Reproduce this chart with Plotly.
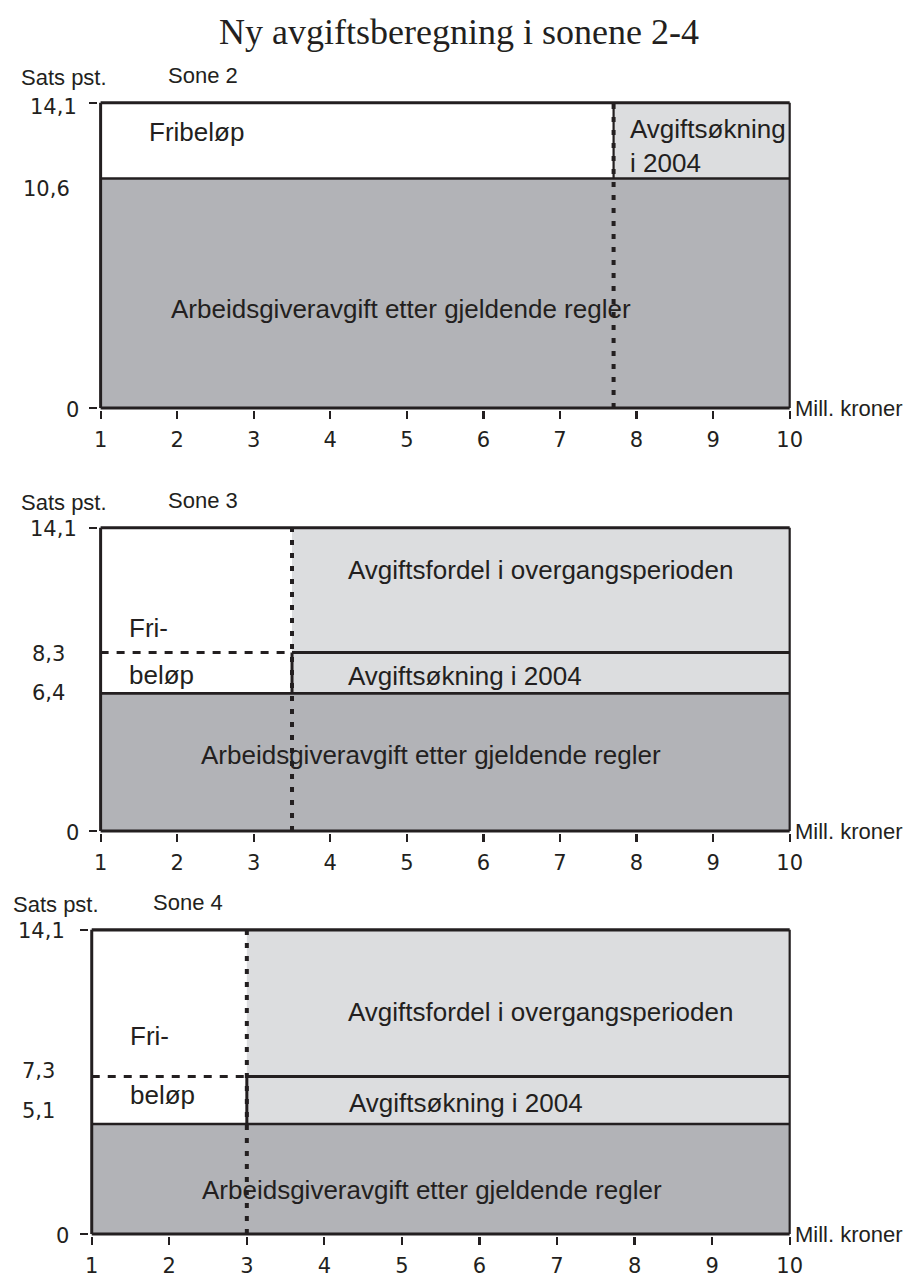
import plotly.graph_objects as go

W, H = 916, 1278

# ---------------- data ----------------
title = "Ny avgiftsberegning i sonene 2-4"
zones = ["Sone 2", "Sone 3", "Sone 4"]
x_ticks = [1, 2, 3, 4, 5, 6, 7, 8, 9, 10]
x_min, x_max = 1, 10
top_rate = 14.1
old_rate = [10.6, 6.4, 5.1]          # Arbeidsgiveravgift etter gjeldende regler
new_rate = [14.1, 8.3, 7.3]          # sats etter fribeløpet i 2004
fribelop_limit = [7.7, 3.5, 3.0]     # Mill. kroner
y_labels = [
    [(14.1, "14,1"), (10.6, "10,6"), (0, "0")],
    [(14.1, "14,1"), (8.3, "8,3"), (6.4, "6,4"), (0, "0")],
    [(14.1, "14,1"), (7.3, "7,3"), (5.1, "5,1"), (0, "0")],
]

# ---------------- style / layout ----------------
INK = "#231f20"
DARK = "#b2b3b7"
LIGHT = "#dcdddf"
FONT = "Liberation Sans"
NUMFONT = "DejaVu Sans"

# pixel geometry of each panel: x=1, x=10, y=0, y=14.1
geo = [
    dict(x1=98, x10=797, y0=409, yt=103),
    dict(x1=98, x10=797, y0=833, yt=529),
    dict(x1=89, x10=797, y0=1237, yt=932),
]
# y-label placement per panel: (right edge px, vertical shift px)
ylab_pos = [
    [(76, -4), (69, -10), (78, -2)],
    [(76, -1), (64, -1), (64, 0), (78, -2)],
    [(64, -1), (54, 6), (54, 13), (68, -2)],
]
title_pos = [(15, 164), (15, 164), (7, 149)]
xr = [0.96, 10.06]
yr = [-0.09, 14.22]

fig = go.Figure()
layout = dict(
    width=W, height=H, margin=dict(l=0, r=0, t=0, b=0),
    paper_bgcolor="white", plot_bgcolor="rgba(0,0,0,0)",
    showlegend=False,
)
annotations = []


def px_x(g, v):
    return g["x1"] + (v - 1) * (g["x10"] - g["x1"]) / 9.0


def px_y(g, v):
    return g["y0"] - v * (g["y0"] - g["yt"]) / top_rate


def line(xa, ya, xs, ys, width=2.6, dash="solid"):
    fig.add_trace(go.Scatter(x=xs, y=ys, mode="lines", xaxis=xa, yaxis=ya,
                             line=dict(color=INK, width=width, dash=dash),
                             hoverinfo="skip"))


def ann(xref, yref, x, y, text, size=26, xanchor="center", yanchor="middle",
        family=FONT, **kw):
    d = dict(xref=xref, yref=yref, x=x, y=y, text=text, showarrow=False,
             xanchor=xanchor, yanchor=yanchor,
             font=dict(family=family, size=size, color=INK))
    d.update(kw)
    annotations.append(d)


for i in range(3):
    g = geo[i]
    sfx = "" if i == 0 else str(i + 1)
    xa, ya = "x" + sfx, "y" + sfx
    dom_x = [px_x(g, xr[0]) / W, px_x(g, xr[1]) / W]
    dom_y = [1 - px_y(g, yr[0]) / H, 1 - px_y(g, yr[1]) / H]
    layout["xaxis" + sfx] = dict(
        domain=dom_x, range=xr, anchor=ya, tickvals=x_ticks,
        ticktext=[str(t) for t in x_ticks], ticks="outside", ticklen=8,
        tickwidth=2.2, tickcolor=INK, showgrid=False, zeroline=False, showline=False,
        tickfont=dict(family=NUMFONT, size=21, color=INK), ticklabelstandoff=3,
        fixedrange=True,
    )
    layout["yaxis" + sfx] = dict(
        domain=dom_y, range=yr, anchor=xa, tickvals=[0, top_rate],
        ticks="outside", ticklen=8, tickwidth=2.2, showticklabels=False,
        tickcolor=INK, showgrid=False, zeroline=False, showline=False,
        fixedrange=True,
    )

    o, n, s = old_rate[i], new_rate[i], fribelop_limit[i]

    # dark area: current rules
    fig.add_trace(go.Scatter(x=[x_min, x_max, x_max, x_min, x_min], y=[0, 0, o, o, 0],
                             fill="toself", fillcolor=DARK, mode="none",
                             xaxis=xa, yaxis=ya, hoverinfo="skip"))
    # light area above threshold
    fig.add_trace(go.Scatter(x=[s, x_max, x_max, s, s], y=[o, o, top_rate, top_rate, o],
                             fill="toself", fillcolor=LIGHT, mode="none",
                             xaxis=xa, yaxis=ya, hoverinfo="skip"))

    # frame lines
    line(xa, ya, [x_min, x_max], [top_rate, top_rate], 3.2)
    line(xa, ya, [x_max, x_max], [0, top_rate], 2.2)
    line(xa, ya, [x_min, x_max], [o, o], 2.6)
    if i == 0:
        line(xa, ya, [s, s], [o, top_rate], 2.2)
    else:
        line(xa, ya, [s, x_max], [n, n], 3)
        line(xa, ya, [s, s], [o, n], 3)
        line(xa, ya, [x_min, s], [n, n], 3, "8px,8px")
    line(xa, ya, [s, s], [0, top_rate], 4, "5px,8px")
    # axes
    line(xa, ya, [x_min, x_min], [0, top_rate], 3)
    line(xa, ya, [x_min, x_max], [0, 0], 3)

    # y labels
    for (val, txt), (right_px, shift) in zip(y_labels[i], ylab_pos[i]):
        ann("paper", ya, right_px / W, val, txt, size=21, xanchor="right",
            family=NUMFONT, yshift=shift)

    # axis titles
    sx, zx = title_pos[i]
    ann("paper", "paper", sx / W, 1 - (g["yt"] - 25) / H, "Sats pst.", size=22,
        xanchor="left")
    ann("paper", "paper", zx / W, 1 - (g["yt"] - 27) / H, zones[i], size=22,
        xanchor="left")
    ann(xa, ya, x_max, 0, "Mill. kroner", size=22, xanchor="left", xshift=3)

    # texts inside
    if i == 0:
        ann(xa, ya, 1.605, 12.76, "Fribeløp", xanchor="left")
        ann(xa, ya, 7.888, 12.88, "Avgiftsøkning", xanchor="left")
        ann(xa, ya, 7.888, 11.34, "i 2004", xanchor="left")
        ann(xa, ya, 4.92, 4.56, "Arbeidsgiveravgift etter gjeldende regler")
    elif i == 1:
        ann(xa, ya, 1.348, 9.42, "Fri-", xanchor="left")
        ann(xa, ya, 1.348, 7.24, "beløp", xanchor="left")
        ann(xa, ya, 4.206, 12.15, "Avgiftsfordel i overgangsperioden", xanchor="left")
        ann(xa, ya, 4.206, 7.19, "Avgiftsøkning i 2004", xanchor="left")
        ann(xa, ya, 2.287, 3.53, "Arbeidsgiveravgift etter gjeldende regler",
            xanchor="left")
    else:
        ann(xa, ya, 1.47, 9.2, "Fri-", xanchor="left")
        ann(xa, ya, 1.47, 6.45, "beløp", xanchor="left")
        ann(xa, ya, 4.28, 10.31, "Avgiftsfordel i overgangsperioden", xanchor="left")
        ann(xa, ya, 4.29, 6.06, "Avgiftsøkning i 2004", xanchor="left")
        ann(xa, ya, 2.40, 2.04, "Arbeidsgiveravgift etter gjeldende regler",
            xanchor="left")

ann("paper", "paper", 462 / W, 1 - 32 / H, title, size=36, family="Liberation Serif")

layout["annotations"] = annotations
fig.update_layout(**layout)
fig.write_html("out.html",
               config={"displayModeBar": False, "staticPlot": True},
               post_script="document.body.style.margin='0px';"
                           "document.body.style.overflow='hidden';")
